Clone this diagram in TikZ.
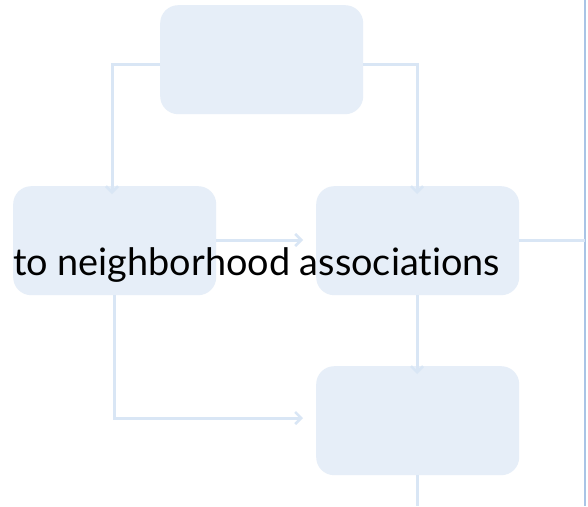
\documentclass[tikz,border=0pt]{standalone}
\usepackage{fontspec}
\setmainfont{Lato}[Ligatures={NoCommon,NoRare,NoDiscretionary}]
\usetikzlibrary{arrows.meta}
\definecolor{boxfill}{HTML}{E6EEF8}
\definecolor{conn}{HTML}{D9E6F5}
\definecolor{edge}{HTML}{A9C4E6}
\tikzset{
  x=1pt,y=-1pt,
  box/.style={fill=boxfill,rounded corners=18pt,draw=none,minimum width=203pt,minimum height=109pt,inner sep=0pt},
  conn/.style={draw=conn,line width=3pt},
  arr/.style={conn,-{Straight Barb[length=6pt,width=12pt,line width=2.5pt]}}
}
\begin{document}
\begin{tikzpicture}
\useasboundingbox (0,0) rectangle (588,506);
\fill[white] (0,0) rectangle (588,506);
\node[box,anchor=north west] (top) at (160,5) {};
\node[box,anchor=north west] (left) at (13,186) {};
\node[box,anchor=north west] (mid) at (316,186) {};
\node[box,anchor=north west] (bot) at (316,366) {};
\coordinate (rl) at (585,240);
\coordinate (bend) at (417,506);
\draw[edge,line width=2pt] (585,0) -- (585,506);
\draw[arr] (top.west |- 0,64) -| ([yshift=-8pt]left.north -| 112,0);
\draw[arr] (top.east |- 0,64) -| ([yshift=-8pt]mid.north -| 417,0);
\draw[arr] (left.east |- 0,240) -- ([xshift=-13pt]mid.west |- 0,240);
\draw[conn] (mid.east |- 0,240) -- (rl);
\draw[arr] (left.south -| 114,0) |- ([xshift=-13pt]bot.west |- 0,418);
\draw[arr] (mid.south -| 417,0) -- ([yshift=-8pt]bot.north -| 417,0);
\draw[conn] (bot.south -| 417,0) -- (bend);
\node[anchor=base west,inner sep=0pt] (lbl) at (13,275) {\resizebox{487pt}{!}{to neighborhood associations}};
\end{tikzpicture}
\end{document}
